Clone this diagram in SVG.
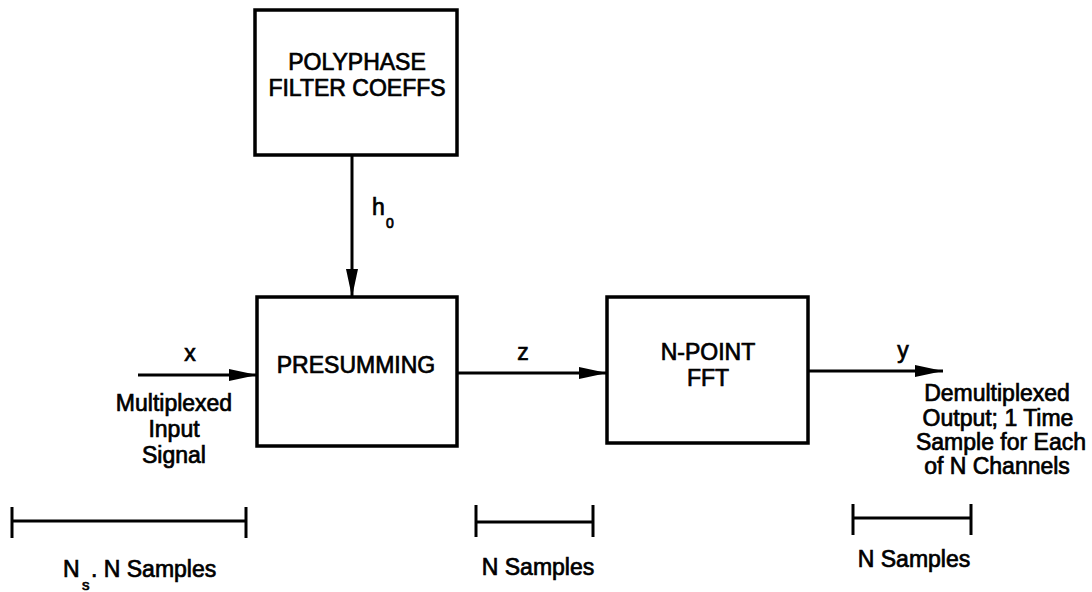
<svg xmlns="http://www.w3.org/2000/svg" width="1092" height="592" viewBox="0 0 1092 592">
<defs>
<style>
.box{fill:#fff;stroke:#000;stroke-width:3.5}
.ln{stroke:#000;stroke-width:3;fill:none}
.t{font-family:"Liberation Sans",Arial,sans-serif;font-size:23px;fill:#000;stroke:#000;stroke-width:0.7}
.c{text-anchor:middle}
</style>
<marker id="ah" markerUnits="userSpaceOnUse" markerWidth="30" markerHeight="14" refX="28" refY="6" orient="auto">
<path d="M0,0 L28,6 L0,12 z" fill="#000"/>
</marker>
</defs>
<rect width="1092" height="592" fill="#fff"/>
<g id="connectors">
<line class="ln" x1="352" y1="155" x2="352" y2="297" marker-end="url(#ah)"/>
<line class="ln" x1="138" y1="375" x2="257" y2="375" marker-end="url(#ah)"/>
<line class="ln" x1="457" y1="373" x2="607" y2="373" marker-end="url(#ah)"/>
<line class="ln" x1="808" y1="371" x2="943" y2="371" marker-end="url(#ah)"/>
<text class="t" x="372" y="215">h</text>
<text class="t" x="386" y="228" style="font-size:14px">0</text>
<text class="t c" x="190" y="361">x</text>
<text class="t c" x="523" y="360">z</text>
<text class="t c" x="903" y="358">y</text>
</g>
<g id="polyphase">
<rect class="box" x="255" y="10" width="202" height="145"/>
<text class="t c" x="357" y="70">POLYPHASE</text>
<text class="t c" x="357" y="96">FILTER COEFFS</text>
</g>
<g id="presumming">
<rect class="box" x="257" y="297" width="200" height="149"/>
<text class="t c" x="356" y="373">PRESUMMING</text>
</g>
<g id="fft">
<rect class="box" x="607" y="297" width="201" height="146"/>
<text class="t c" x="708" y="360">N-POINT</text>
<text class="t c" x="708" y="386">FFT</text>
</g>
<g id="input-label">
<text class="t c" x="174" y="411">Multiplexed</text>
<text class="t c" x="174" y="437">Input</text>
<text class="t c" x="174" y="463">Signal</text>
</g>
<g id="output-label">
<text class="t c" x="997" y="401">Demultiplexed</text>
<text class="t c" x="998" y="426">Output; 1 Time</text>
<text class="t c" x="1001" y="450">Sample for Each</text>
<text class="t c" x="997" y="474">of N Channels</text>
</g>
<g id="scale-input">
<line class="ln" x1="12" y1="521" x2="246" y2="521"/>
<line class="ln" x1="12" y1="507" x2="12" y2="538"/>
<line class="ln" x1="246" y1="507" x2="246" y2="538"/>
<text class="t" x="63" y="577">N</text>
<text class="t" x="82" y="590" style="font-size:15px">s</text>
<text class="t" x="91" y="577">. N Samples</text>
</g>
<g id="scale-mid">
<line class="ln" x1="476" y1="522" x2="593" y2="522"/>
<line class="ln" x1="476" y1="505" x2="476" y2="537"/>
<line class="ln" x1="593" y1="505" x2="593" y2="537"/>
<text class="t c" x="538" y="575">N Samples</text>
</g>
<g id="scale-output">
<line class="ln" x1="853" y1="518" x2="971" y2="518"/>
<line class="ln" x1="853" y1="504" x2="853" y2="535"/>
<line class="ln" x1="971" y1="504" x2="971" y2="535"/>
<text class="t c" x="914" y="567">N Samples</text>
</g>
</svg>
